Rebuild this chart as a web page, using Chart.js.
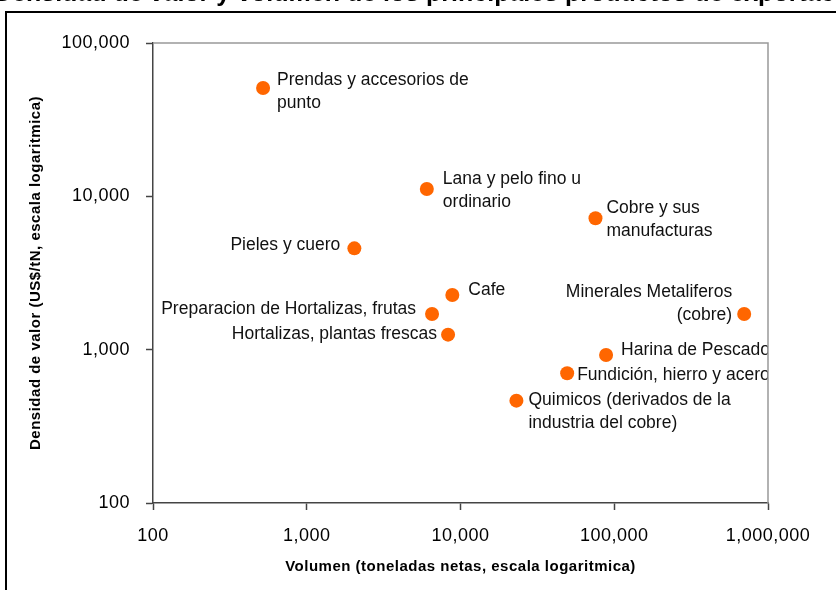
<!DOCTYPE html>
<html lang="es">
<head>
<meta charset="UTF-8">
<title>Densidad de valor y volumen de los principales productos de exportación</title>
<script src="https://cdn.jsdelivr.net/npm/chart.js"></script>
<style>
  html, body { margin: 0; padding: 0; background: #fff; }
  canvas { display: block; }
</style>
</head>
<body>
<canvas id="scatter" width="836" height="590"></canvas>
<script>
// datos
const productos = [
  ['Prendas y accesorios de', 'punto'],
  ['Lana y pelo fino u', 'ordinario'],
  ['Cobre y sus', 'manufacturas'],
  ['Pieles y cuero'],
  ['Cafe'],
  ['Preparacion de Hortalizas, frutas'],
  ['Hortalizas, plantas frescas'],
  ['Minerales Metaliferos', '(cobre)'],
  ['Harina de Pescado'],
  ['Fundición, hierro y acero'],
  ['Quimicos (derivados de la', 'industria del cobre)']
];
const volumen  = [520, 6040, 75500, 2040, 8850, 6530, 8300, 700000, 88500, 49400, 23100];
const densidad = [50900, 11170, 7200, 4580, 2275, 1710, 1253, 1710, 922, 702, 465];
const xTicks = [100, 1000, 10000, 100000, 1000000];
const yTicks = [100, 1000, 10000, 100000];

// donde va cada etiqueta respecto a su punto
const labelPos = [
  { align: 'left',  dx: 14,  dy: -8 },
  { align: 'left',  dx: 16,  dy: -10 },
  { align: 'left',  dx: 11,  dy: -10 },
  { align: 'right', dx: -14, dy: -3 },
  { align: 'left',  dx: 16,  dy: -5 },
  { align: 'right', dx: -16, dy: -5 },
  { align: 'right', dx: -11, dy: 0 },
  { align: 'right', dx: -12, dy: -22 },
  { align: 'left',  dx: 15,  dy: -5 },
  { align: 'left',  dx: 10,  dy: 2 },
  { align: 'left',  dx: 12,  dy: 0 }
];

const FONT = "'Liberation Sans', Arial, sans-serif";
const fmt = v => v.toLocaleString('en-US');

const frame = {
  id: 'frame',
  beforeDraw(chart) {
    const ctx = chart.ctx;
    ctx.save();
    ctx.strokeStyle = '#000';
    ctx.lineWidth = 2;
    ctx.beginPath();
    ctx.moveTo(6, 600);
    ctx.lineTo(6, 12);
    ctx.lineTo(850, 12);
    ctx.stroke();
    // titulo cortado arriba
    ctx.fillStyle = '#000';
    ctx.font = 'bold 25px ' + FONT;
    ctx.textAlign = 'right';
    ctx.textBaseline = 'alphabetic';
    ctx.fillText('Densidad de valor y volumen de los principales productos de exportación', 872, 1);
    ctx.restore();
    // texto de ejes algo mas espaciado, como en Excel
    ctx.letterSpacing = '0.5px';
  },
  beforeDatasetsDraw(chart) {
    chart.ctx.letterSpacing = '0px';
  },
  afterDraw(chart) {
    const { ctx, chartArea: a } = chart;
    ctx.save();
    ctx.strokeStyle = '#999';
    ctx.lineWidth = 1.5;
    ctx.beginPath();
    ctx.moveTo(a.left, a.top);
    ctx.lineTo(a.right, a.top);
    ctx.lineTo(a.right, a.bottom);
    ctx.stroke();
    ctx.restore();
  }
};

const pointLabels = {
  id: 'pointLabels',
  afterDatasetsDraw(chart) {
    const { ctx, chartArea: a } = chart;
    const pts = chart.getDatasetMeta(0).data;
    ctx.save();
    ctx.beginPath();
    ctx.rect(a.left, a.top, a.right - a.left, a.bottom - a.top);
    ctx.clip();
    ctx.font = '17.5px ' + FONT;
    ctx.fillStyle = '#111';
    ctx.textBaseline = 'middle';
    pts.forEach((p, i) => {
      const lp = labelPos[i];
      ctx.textAlign = lp.align;
      productos[i].forEach((line, j) => {
        ctx.fillText(line, p.x + lp.dx, p.y + lp.dy + j * 23);
      });
    });
    ctx.restore();
  }
};

new Chart(document.getElementById('scatter'), {
  type: 'scatter',
  data: {
    datasets: [{
      data: volumen.map((v, i) => ({ x: v, y: densidad[i] })),
      backgroundColor: '#ff6600',
      borderWidth: 0,
      pointRadius: 7,
      pointHoverRadius: 7
    }]
  },
  options: {
    responsive: false,
    animation: false,
    layout: { padding: { top: 43, right: 68, left: 27, bottom: 14 } },
    plugins: { legend: { display: false }, tooltip: { enabled: false } },
    scales: {
      x: {
        type: 'logarithmic',
        min: 100, max: 1000000,
        afterBuildTicks: s => { s.ticks = xTicks.map(v => ({ value: v })); },
        afterFit: s => { s.height = 73; },
        grid: { drawOnChartArea: false, tickLength: 7, tickColor: '#444', tickWidth: 1.5 },
        border: { color: '#444', width: 1.5 },
        ticks: { color: '#000', font: { family: FONT, size: 18 }, padding: 15, maxRotation: 0, callback: v => fmt(v) },
        title: { display: true, text: 'Volumen (toneladas netas, escala logaritmica)', color: '#000',
                 font: { family: FONT, size: 15, weight: 'bold' }, padding: 0 }
      },
      y: {
        type: 'logarithmic',
        min: 100, max: 100000,
        afterBuildTicks: s => { s.ticks = yTicks.map(v => ({ value: v })); },
        afterFit: s => { s.width = 126; },
        grid: { drawOnChartArea: false, tickLength: 7, tickColor: '#444', tickWidth: 1.5 },
        border: { color: '#444', width: 1.5 },
        ticks: { color: '#000', font: { family: FONT, size: 18 }, padding: 16, callback: v => fmt(v) },
        title: { display: true, text: 'Densidad de valor (US$/tN, escala logaritmica)', color: '#000',
                 font: { family: FONT, size: 15, weight: 'bold' }, padding: 0 }
      }
    }
  },
  plugins: [frame, pointLabels]
});
</script>
</body>
</html>
